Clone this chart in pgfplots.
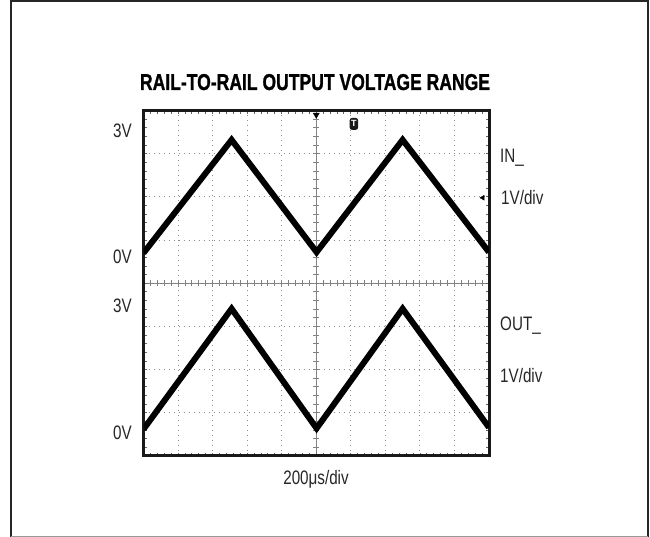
\documentclass[border=0pt]{standalone}
\usepackage{graphicx}
\usepackage{fontspec}
\setmainfont{Liberation Sans}
\newfontfamily\condfont{Liberation Sans}[FakeStretch=0.78]
\newfontfamily\titlefont{Liberation Sans Bold}[FakeBold=1.2]
\usepackage{pgfplots}
\pgfplotsset{compat=1.18}
\begin{document}
\begin{tikzpicture}
\useasboundingbox (0,0) rectangle (650bp,537bp);
% outer frame
\draw[line width=2.2bp, black!85] (11bp,0) -- (11bp,535.9bp) -- (648bp,535.9bp) -- (648bp,0);
\draw[line width=1bp, black!40] (11bp,0.5bp) -- (648bp,0.5bp);
% center graticule lines
\begin{axis}[at={(143.5bp,81bp)}, anchor=south west, scale only axis,
  width=345.5bp, height=345.5bp, xmin=-5, xmax=5, ymin=-4, ymax=4,
  axis lines=middle, axis line style={-, black!50, line width=1.2bp},
  xtick={-5,...,5}, ytick={-4,...,4}, minor x tick num=4, minor y tick num=4,
  xticklabels={}, yticklabels={}, tick align=center,
  major tick length=7bp, minor tick length=6bp,
  tick style={black!50, line width=0.9bp}]
\end{axis}
% main scope screen
\begin{axis}[at={(143.5bp,81bp)}, anchor=south west, scale only axis,
  width=345.5bp, height=345.5bp, xmin=0, xmax=10, ymin=-4, ymax=4,
  xtick={0,...,10}, ytick={-4,...,4}, minor x tick num=4, minor y tick num=4,
  xticklabels={}, yticklabels={}, tick align=inside, tick pos=both,
  major tick length=3bp, minor tick length=3bp,
  tick style={black!60, line width=0.8bp},
  grid=major, major grid style={black!45, line width=0.9bp, dash pattern=on 1bp off 4bp},
  axis line style={line width=3bp, black!90}]
\addplot[line width=6bp, black, line join=miter, miter limit=10]
  coordinates {(0,0.70) (2.55,3.32) (5.01,0.72) (7.50,3.32) (10,0.72)};
\addplot[line width=6bp, black, line join=miter, miter limit=10]
  coordinates {(0,-3.38) (2.55,-0.59) (5.01,-3.36) (7.50,-0.59) (10,-3.34)};
\addplot[only marks, mark=triangle*, mark size=3.5bp, mark options={rotate=180, fill=black, draw=black}]
  coordinates {(5,3.90)};
\addplot[only marks, mark=triangle*, mark size=2.8bp, mark options={rotate=90, fill=black, draw=black}]
  coordinates {(9.82,1.98)};
\node[fill=black!90, rounded corners=2.5bp, minimum width=8.5bp, minimum height=12bp, inner sep=0, text=white, font=\fontsize{9bp}{9bp}\selectfont\bfseries] at (axis cs:6.09,3.69) {T};
\end{axis}
% title and labels
\node[anchor=base, inner sep=0] at (315bp,447bp) {\resizebox{350bp}{16bp}{\titlefont RAIL-TO-RAIL OUTPUT VOLTAGE RANGE}};
\begin{scope}[every node/.style={inner sep=0, text=black!85, font=\condfont\fontsize{19.5bp}{21bp}\selectfont}]
\node[anchor=base east] at (132bp,399bp) {3V};
\node[anchor=base east] at (132bp,273bp) {0V};
\node[anchor=base east] at (132bp,224.5bp) {3V};
\node[anchor=base east] at (132bp,97.5bp) {0V};
\node[anchor=base west] at (500bp,374bp) {IN\_};
\node[anchor=base west] at (501bp,332bp) {1V/div};
\node[anchor=base west] at (500bp,206bp) {OUT\_};
\node[anchor=base west] at (500bp,154bp) {1V/div};
\node[anchor=base] at (316bp,52bp) {200μs/div};
\end{scope}
\end{tikzpicture}
\end{document}
